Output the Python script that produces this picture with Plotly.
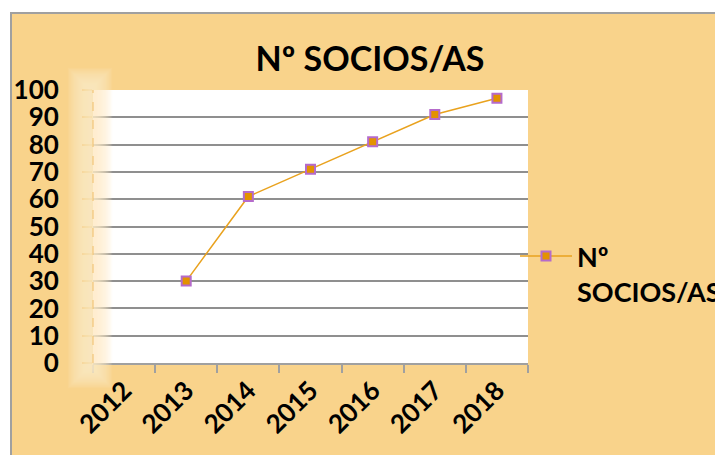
import plotly.graph_objects as go

years = ["2012", "2013", "2014", "2015", "2016", "2017", "2018"]
socios = [None, 30, 61, 71, 81, 91, 97]
series_name = "Nº<br>SOCIOS/AS"
title_text = "Nº SOCIOS/AS"
y_ticks = list(range(0, 101, 10))

OFF = 8  # page body margin
W, H = 723 - OFF, 455 - OFF
L, R, T, B = 93 - OFF, 528 - OFF, 90 - OFF, 363 - OFF  # plot area in fig px

def px_x(p):  # p: reference-image px
    return (p - OFF - L) / (R - L)

def px_y(p):
    return (B - (p - OFF)) / (B - T)

BG = "#F9D38B"
FONT = "Lato"

fig = go.Figure()
fig.add_trace(go.Scatter(
    x=years, y=socios, mode="lines+markers", name=series_name,
    line=dict(color="#E9A21E", width=1.5),
    marker=dict(symbol="square", size=9, color="#E39200",
                line=dict(color="#B56BCB", width=2)),
    connectgaps=False,
))

shapes = []
# chart frame
shapes.append(dict(type="rect", xref="paper", yref="paper", layer="below",
                   x0=px_x(11), x1=px_x(740), y0=px_y(470), y1=px_y(13),
                   fillcolor=BG, line=dict(color="#A0A0A0", width=2)))
# white plot area
shapes.append(dict(type="rect", xref="paper", yref="paper", layer="below",
                   x0=0, x1=1, y0=0, y1=1,
                   fillcolor="white", line=dict(width=0)))
# glow around value axis
for i in range(18):
    hw = 1 + i * 1.25
    shapes.append(dict(type="rect", xref="paper", yref="paper", layer="above",
                       x0=px_x(90 - hw), x1=px_x(90 + hw),
                       y0=px_y(366 + hw), y1=px_y(90 - hw),
                       fillcolor="#FDE9C8", opacity=0.11, line=dict(width=0)))
# dashed value axis line
shapes.append(dict(type="line", xref="paper", yref="paper", layer="above",
                   x0=0, x1=0, y0=0, y1=1,
                   line=dict(color="#F0BE6A", width=1, dash="dash")))

fig.update_layout(
    width=W, height=H, autosize=False,
    margin=dict(l=L, r=W - R, t=T, b=H - B, pad=0, autoexpand=False),
    paper_bgcolor="white", plot_bgcolor="white",
    font=dict(family=FONT, color="black"),
    title=dict(text=title_text, x=(370 - OFF) / W, xanchor="center",
               y=1 - (59 - OFF) / H, yanchor="middle",
               font=dict(family=FONT, size=34, color="black", weight="bold")),
    shapes=shapes,
    showlegend=True,
    legend=dict(x=px_x(515), y=px_y(232), xanchor="left", yanchor="top",
                bgcolor="rgba(0,0,0,0)", valign="top",
                font=dict(family=FONT, size=27, color="black", weight="bold"),
                itemwidth=52),
)

fig.update_xaxes(
    type="category", categoryorder="array", categoryarray=years,
    range=[-0.5, 6.5], automargin=False,
    tickson="boundaries", ticks="outside", ticklen=8, tickcolor="#A0A0A0", tickwidth=2,
    showline=True, linecolor="#A0A0A0", linewidth=2,
    showgrid=False, tickangle=-45,
    tickfont=dict(family=FONT, size=26, color="black", weight="bold"),
)
fig.update_yaxes(
    range=[0, 100], tickvals=y_ticks, automargin=False,
    ticks="outside", ticklen=10, tickcolor="#E9A21E", tickwidth=2,
    showline=False, showgrid=True, gridcolor="#8F8F8F", gridwidth=2,
    zeroline=False, ticklabelstandoff=18,
    tickfont=dict(family=FONT, size=26, color="black", weight="bold"),
)

fig.write_html("out.html")
